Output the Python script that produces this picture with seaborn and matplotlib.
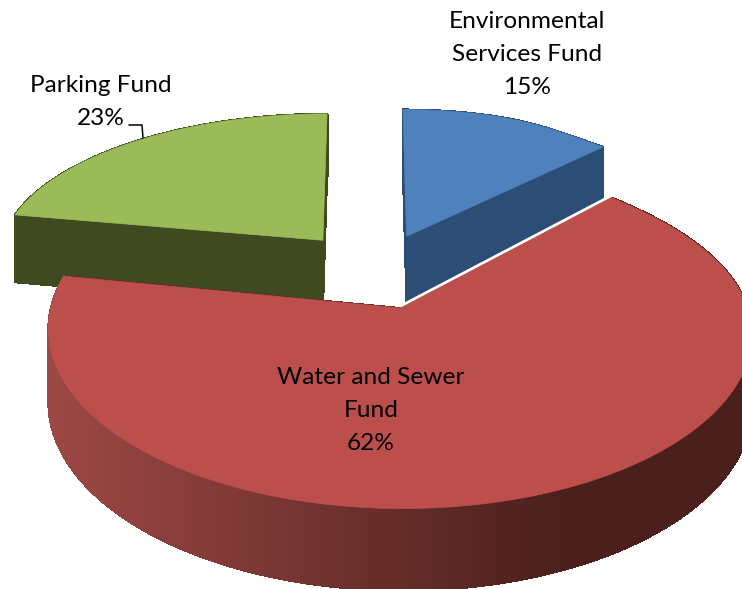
import numpy as np
import matplotlib
matplotlib.use("Agg")
import matplotlib.pyplot as plt
import seaborn as sns
from matplotlib.collections import PolyCollection
from matplotlib.colors import to_rgb
from matplotlib.patches import Polygon

#%% DATA
funds = ["Environmental\nServices Fund", "Water and Sewer\nFund", "Parking Fund"]
shares = [15, 62, 23]
top_colors = ["#4f81bd", "#bc4f4b", "#9bbb59"]
side_colors = ["#2c4d75", "#4a1f1c", "#3f4a20"]

#%% PROJECTION SETTINGS
CX, CY = 381, 272
SCALE_X, SCALE_Y = 344, 165
PERSP = 0.12
DEPTH = 70
START_ANGLE = 90
EXPLODE = 0.22
slice_radius = [(0.96, 0.89), (0.99, 1.01), (0.95, 0.88)]
slice_nudge = [(-8, -4), (0, 0), (-9, -5)]


def angle_gap(theta, centre):
    return (theta - centre + 180) % 360 - 180


def wedge_outline(wedge, radius):
    # the 3d view squeezes wedge boundaries a bit away from where the shares put them
    theta = np.linspace(wedge.theta1, wedge.theta2, 240)
    right = np.exp(-(angle_gap(theta, 36) / 25.0) ** 2)
    left = np.exp(-(angle_gap(theta, 172.8) / 30.0) ** 2)
    rad = np.deg2rad(theta + 10 * right - 3.5 * left)
    shrink = 1 - 0.05 * right
    x = wedge.center[0] + radius[0] * shrink * np.cos(rad)
    y = wedge.center[1] + radius[1] * shrink * np.sin(rad)
    return np.r_[wedge.center[0], x], np.r_[wedge.center[1], y]


def project(x, y):
    w = 1 + PERSP * y
    return CX + SCALE_X * x / w, CY - SCALE_Y * y / w, DEPTH / w


#%% PLOT
sns.set_theme(style="white")
plt.rcParams["font.family"] = ["Lato", "DejaVu Sans"]

fig = plt.figure(figsize=(7.42, 5.89), dpi=100)
ax = fig.add_axes([0, 0, 1, 1])

# counterclock=False so the slices run clockwise from twelve o'clock like the original
wedges, _ = ax.pie(shares, explode=[EXPLODE] * 3, startangle=START_ANGLE, counterclock=False,
                   colors=sns.color_palette(top_colors))
ax.set_aspect("auto")
ax.set_xlim(0, 742)
ax.set_ylim(589, 0)
ax.axis("off")

# paint back slices first, red one sits on top
for order, idx in enumerate([2, 0, 1]):
    wedge = wedges[idx]
    wedge.set_visible(False)
    wx, wy = wedge_outline(wedge, slice_radius[idx])
    sx, sy, d = project(wx, wy)
    sx = sx + slice_nudge[idx][0]
    sy = sy + slice_nudge[idx][1]

    # side walls from extruding the outline, back to front
    quads, shades = [], []
    n = len(sx)
    for i in range(n):
        j = (i + 1) % n
        quads.append([(sx[i], sy[i]), (sx[j], sy[j]), (sx[j], sy[j] + d[j]), (sx[i], sy[i] + d[i])])
        if idx == 1:
            t = np.clip((sx[i] - 55) / 505.0, 0, 1)
            shades.append(np.array(to_rgb("#9c4845")) * (1 - t) + np.array(to_rgb(side_colors[1])) * t)
        else:
            shades.append(to_rgb(side_colors[idx]))
    sort_idx = np.argsort([min(q[0][1], q[1][1]) for q in quads])
    walls = PolyCollection([quads[k] for k in sort_idx], facecolors=[shades[k] for k in sort_idx],
                           edgecolors="face", linewidths=0.8, antialiaseds=False, zorder=2 + order * 3)
    ax.add_collection(walls)

    if idx == 1:
        # light seam between the red top and the blue wall
        ax.plot(sx[[0, -1]], sy[[0, -1]] - 1.5, color="white", lw=2.5, zorder=3 + order * 3,
                solid_capstyle="butt")

    ax.add_patch(Polygon(np.c_[sx, sy], closed=True, facecolor=top_colors[idx], edgecolor=top_colors[idx],
                         lw=0.5, zorder=4 + order * 3))

#%% LABELS
ax.text(527, 54.5, f"{funds[0]}\n{shares[0]}%", ha="center", va="center", fontsize=17.6,
        color="black", linespacing=1.68, zorder=20)
ax.text(371, 410.5, f"{funds[1]}\n{shares[1]}%", ha="center", va="center", fontsize=17.6,
        color="black", linespacing=1.68, zorder=20)
ax.text(101, 102, f"{funds[2]}\n{shares[2]}%", ha="center", va="center", fontsize=17.6,
        color="black", linespacing=1.68, zorder=20)
ax.plot([129, 142, 143], [125, 125, 138], color="black", lw=1.1, zorder=20)

fig.savefig("out.png", dpi=100, facecolor="white")
